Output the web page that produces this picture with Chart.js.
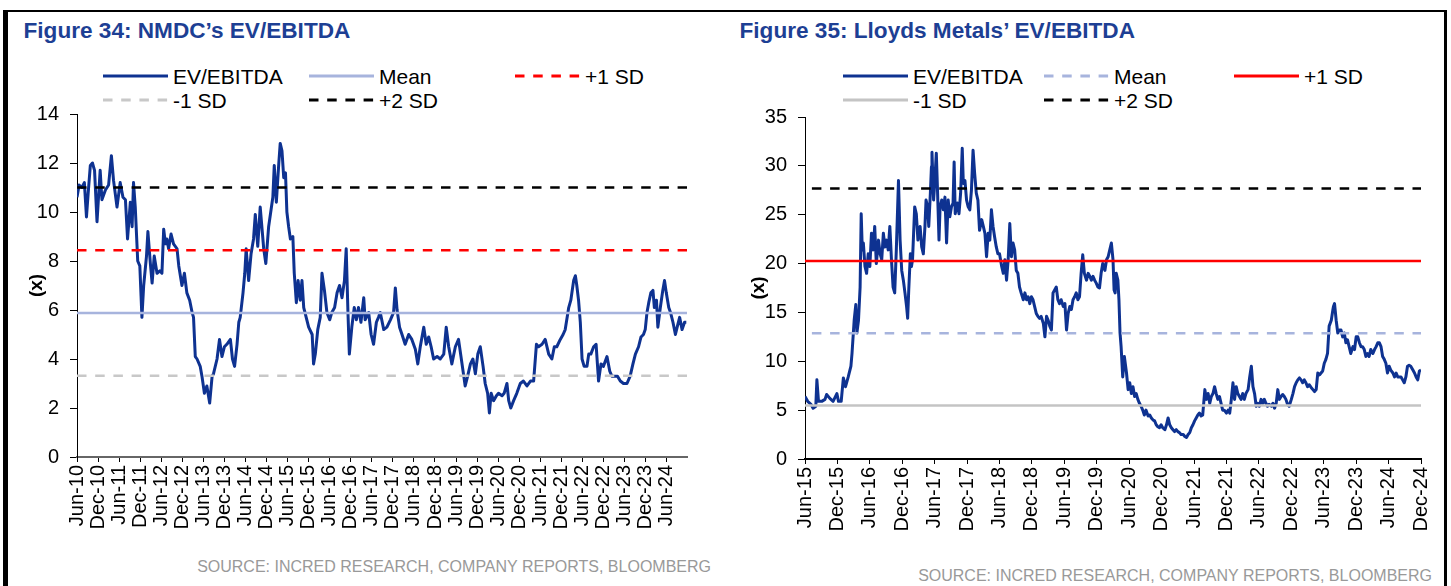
<!DOCTYPE html>
<html>
<head>
<meta charset="utf-8">
<script src="https://cdn.jsdelivr.net/npm/chart.js@4.4.1/dist/chart.umd.min.js"></script>
<style>
  body { margin: 0; width: 1451px; height: 586px; overflow: hidden; background: #fff; position: relative;
         font-family: "Liberation Sans", Arial, sans-serif; }
  .frame { position: absolute; left: 3px; top: 10px; width: 1444px; height: 600px; box-sizing: border-box;
           border-top: 2px solid #000; border-left: 5px solid #000; border-right: 3px solid #000; }
  .title { position: absolute; top: 19.5px; font-size: 22.6px; line-height: 22px; font-weight: bold; color: #1d3f94; white-space: nowrap; }
  .leg { position: absolute; height: 21px; display: flex; align-items: center; font-size: 21px; line-height: 21px; white-space: nowrap; color: #000; }
  .leg svg { margin-right: 5px; }
  .src { position: absolute; width: 600px; text-align: right; font-size: 16px; line-height: 16px; color: #999; white-space: nowrap; }
  canvas { position: absolute; }
</style>
</head>
<body>
<div class="frame"></div>
<div class="title" style="left:23.5px">Figure 34: NMDC’s EV/EBITDA</div>
<div class="title" style="left:739.5px">Figure 35: Lloyds Metals’ EV/EBITDA</div>
<div id="legNmdc"></div>
<div id="legLloyds"></div>
<canvas id="nmdc" width="725" height="459" style="left:0;top:91px"></canvas>
<canvas id="lloyds" width="726" height="456" style="left:725px;top:94px"></canvas>
<div class="src" style="left:111px;top:559px">SOURCE: INCRED RESEARCH, COMPANY REPORTS, BLOOMBERG</div>
<div class="src" style="left:832px;top:568px">SOURCE: INCRED RESEARCH, COMPANY REPORTS, BLOOMBERG</div>

<script>
// NMDC: months since Jun-10, EV/EBITDA (x)
const nmdcMonths = [0,0.6,1.4,2.1,2.7,3.2,3.8,4.4,5.0,5.7,6.3,6.6,7.1,8.1,9.0,9.8,10.4,11.4,12.3,13.1,
  13.8,14.4,15.2,15.7,16.1,16.6,17.3,17.9,18.5,19.0,19.8,20.2,20.9,21.4,22.0,22.8,23.6,24.2,24.7,25.2,
  25.6,26.1,26.8,27.5,28.5,29.0,29.9,30.6,31.3,32.1,32.8,33.2,33.7,34.2,35.1,35.6,36.3,37.0,37.8,38.5,
  38.9,39.9,40.6,41.3,42.0,42.7,43.7,44.3,44.9,45.6,46.1,46.5,47.3,47.8,48.2,48.9,49.6,50.3,50.8,51.5,
  52.2,53.2,53.8,54.6,55.3,55.8,56.2,56.8,57.5,57.9,58.4,58.9,59.4,59.8,60.3,60.8,61.5,61.9,62.5,63.0,
  63.6,64.1,64.6,65.3,66.0,67.0,67.4,67.9,68.6,69.3,69.8,70.5,71.2,72.0,72.6,73.4,74.1,74.8,75.5,76.2,
  76.7,77.2,77.6,78.3,79.0,79.6,80.2,80.9,81.7,82.1,83.1,83.8,84.5,85.3,85.9,
  86.4,87.4,88.3,89.3,90.2,90.7,91.2,91.9,92.6,93.5,94.5,95.4,96.4,97.1,97.8,98.8,99.5,100.2,100.9,101.6,
  102.6,103.5,104.5,105.2,105.9,106.8,107.8,108.7,109.4,110.2,110.6,111.3,112.1,112.8,113.5,114.2,114.9,115.7,116.3,117.0,
  117.5,118.0,118.7,119.5,120.1,121.1,121.7,122.5,123.0,123.6,124.4,125.3,126.3,127.2,128.2,129.2,130.1,130.9,131.5,132.5,
  133.4,134.4,135.3,136.0,136.7,137.7,138.5,139.1,140.1,140.7,141.5,142.0,142.4,142.9,143.4,143.9,144.5,145.3,145.8,146.4,
  147.2,147.9,148.6,149.3,150.0,151.0,151.8,152.4,153.2,154.0,154.8,155.7,156.7,157.6,158.4,159.1,160.0,160.7,161.4,161.9,
  162.4,162.9,163.5,164.1,164.5,165.1,165.5,166.2,166.9,167.4,167.9,168.6,169.1,169.8,170.5,171.0,171.7,172.4,173.1,173.6];
const nmdcValues = [10.6,11.1,11.0,11.2,9.8,10.8,11.9,12.0,11.7,9.6,11.0,11.7,10.5,10.9,11.1,12.3,11.3,10.2,11.2,10.6,
  10.5,8.9,10.4,9.4,11.2,10.2,8.0,7.8,5.7,7.0,8.2,9.2,7.9,7.1,8.2,7.5,7.6,7.5,9.3,8.7,
  8.9,8.5,9.1,8.7,8.5,7.8,7.0,7.5,6.7,6.4,5.9,5.7,4.1,4.0,3.7,3.3,2.6,2.9,2.2,3.3,
  3.4,4.0,4.8,4.1,4.5,4.6,4.8,4.0,3.7,4.6,5.5,5.7,6.7,7.5,8.5,7.2,8.3,8.9,9.9,8.6,
  10.2,8.5,7.9,9.4,10.1,10.6,11.9,10.4,12.0,12.8,12.5,11.4,11.6,10.0,9.4,8.9,9.0,7.5,6.3,7.2,
  6.4,7.2,6.1,5.7,5.3,5.0,3.8,4.2,5.2,5.7,7.5,6.8,5.9,5.6,5.9,6.1,6.7,7.0,6.5,7.2,
  8.5,5.9,4.2,5.3,6.1,5.6,6.1,5.5,6.5,5.6,5.9,5.0,4.6,5.5,5.7,
  5.9,5.2,5.3,5.6,5.9,6.9,6.0,5.3,5.0,4.6,5.0,4.8,4.4,3.8,4.5,5.3,4.6,4.9,4.5,4.0,
  4.1,4.0,4.2,5.3,4.5,3.8,4.5,4.8,4.1,3.3,2.9,3.3,3.8,4.0,3.4,4.2,4.5,3.7,3.0,2.6,
  1.8,2.6,2.3,2.5,2.6,2.5,2.6,3.0,2.3,2.0,2.3,2.6,3.0,3.1,2.9,3.1,3.1,4.6,4.5,4.6,
  4.8,4.2,4.0,4.5,4.5,4.8,5.0,5.2,6.1,6.4,7.2,7.4,7.0,6.4,5.5,4.0,3.7,3.7,4.2,4.2,
  4.5,4.6,3.1,3.8,3.7,4.1,3.5,3.3,3.3,3.3,3.1,3.0,3.0,3.3,3.8,4.2,4.5,4.9,5.0,5.2,
  5.9,6.3,6.7,6.8,6.1,6.4,5.3,6.1,6.8,7.2,6.7,6.1,5.9,5.5,5.0,5.3,5.7,5.2,5.5,5.5];
const nmdcTickLabels = ['Jun-10','Dec-10','Jun-11','Dec-11','Jun-12','Dec-12','Jun-13','Dec-13','Jun-14','Dec-14',
  'Jun-15','Dec-15','Jun-16','Dec-16','Jun-17','Dec-17','Jun-18','Dec-18','Jun-19','Dec-19',
  'Jun-20','Dec-20','Jun-21','Dec-21','Jun-22','Dec-22','Jun-23','Dec-23','Jun-24'];
const nmdcBands = [5.88, 8.44, 3.32, 11.0];   // Mean, +1 SD, -1 SD, +2 SD

// Lloyds Metals: months since Jun-15, EV/EBITDA (x)
const lloydsMonths = [0.0,0.5,1.1,1.5,2.0,2.2,2.5,3.1,3.7,4.0,4.6,5.2,5.9,6.2,6.7,7.1,7.5,8.0,8.5,8.7,
  9.1,9.4,9.6,9.9,10.2,10.4,10.6,10.8,11.1,11.4,11.7,12.0,12.3,12.6,12.9,13.2,13.6,13.9,14.2,14.5,
  14.8,15.1,15.4,15.7,16.0,16.3,16.6,16.9,17.3,17.6,17.9,18.2,18.5,18.8,19.0,19.2,19.5,19.7,19.9,20.1,
  20.3,20.6,20.9,21.3,21.6,21.9,22.2,22.4,22.7,22.9,23.2,23.4,23.5,23.8,24.0,24.3,24.5,24.8,25.0,25.3,
  25.6,25.9,26.2,26.5,26.8,27.1,27.4,27.6,27.8,28.2,28.5,28.8,29.1,29.3,29.6,29.9,30.2,30.5,30.8,31.1,
  31.4,31.7,32.0,32.3,32.7,33.0,33.3,33.6,33.9,34.2,34.5,34.8,35.1,35.4,35.7,36.0,36.4,36.7,37.0,37.3,
  37.6,37.9,38.2,38.5,38.8,39.1,39.4,39.7,40.0,40.4,40.7,41.0,41.3,41.6,41.9,42.2,42.5,42.8,43.1,43.4,
  43.7,44.1,44.4,44.7,45.0,45.3,45.6,45.9,46.2,46.5,46.8,47.1,47.4,47.8,48.1,48.4,48.7,49.0,49.3,49.6,
  49.9,50.2,50.5,50.8,
  51.1,51.4,51.7,52.1,52.4,52.7,53.0,53.3,53.6,53.9,54.2,54.5,54.8,55.1,55.5,55.8,56.1,56.4,56.7,57.0,
  57.2,57.4,57.6,57.9,58.1,58.3,58.5,58.8,59.1,59.5,59.8,60.1,60.4,60.7,61.0,61.3,61.6,61.9,62.2,62.5,
  62.8,63.1,63.5,63.8,64.1,64.4,64.7,65.0,65.3,65.6,65.9,66.2,66.6,66.9,67.2,67.5,67.8,68.1,68.4,68.7,
  69.0,69.3,69.6,70.0,70.3,70.6,70.9,71.2,71.5,71.8,72.1,72.4,72.7,73.0,73.3,73.6,74.0,74.3,74.6,74.9,
  75.2,75.5,75.8,76.1,76.4,76.7,77.0,77.3,77.6,78.0,78.3,78.6,78.9,79.2,79.5,79.8,80.1,80.4,80.7,81.0,
  81.3,81.6,82.0,82.3,82.6,82.9,83.2,83.5,83.8,84.1,84.4,84.7,85.0,85.3,85.6,85.9,86.3,86.6,86.9,87.2,
  87.5,87.8,88.1,88.4,88.7,89.0,89.3,89.6,90.0,90.3,90.6,90.9,91.2,91.5,91.8,92.1,92.4,92.7,93.0,93.3,
  93.7,94.0,94.3,94.6,94.9,95.2,95.5,95.8,96.1,96.4,96.7,97.0,97.4,97.7,97.8,98.0,98.3,98.6,98.9,99.2,
  99.5,99.8,100.1,100.4,100.7,101.0,101.4,101.7,102.0,102.3,102.6,102.9,103.2,103.5,103.8,104.1,104.4,104.7,105.1,105.4,
  105.7,106.0,106.3,106.6,106.9,107.2,107.5,107.8,108.1,108.4,108.8,109.1,109.4,109.7,110.0,110.3,110.6,110.9,111.2,111.5,
  111.8,112.1,112.5,112.8,113.1,113.4,113.7,114.0];
const lloydsValues = [6.4,5.9,5.6,5.2,5.4,8.1,5.9,5.9,6.1,6.6,6.2,5.9,6.7,5.9,5.9,8.3,7.4,8.4,9.5,10.8,
  14.2,15.8,12.9,14.2,17.6,25.1,21.4,22.1,19.7,19.0,21.0,19.7,23.1,21.4,23.8,20.0,22.4,21.0,20.4,23.1,
  21.7,22.4,21.4,23.8,20.4,17.6,17.0,21.4,28.5,22.4,19.3,18.3,17.0,15.6,14.4,17.3,21.0,19.7,20.4,23.1,
  25.8,25.1,22.4,23.8,21.7,21.0,23.8,26.5,25.8,23.8,27.2,29.9,31.4,26.5,28.2,31.3,27.9,22.4,25.8,26.5,
  25.5,26.8,22.1,26.5,24.8,25.8,26.2,30.4,25.1,26.2,25.1,27.2,31.8,28.2,28.5,26.5,25.8,25.5,27.5,31.6,
  29.2,27.2,26.5,23.4,24.5,23.8,23.1,20.7,23.1,22.4,25.5,23.8,22.7,21.7,21.0,21.0,19.7,19.0,20.4,18.3,
  20.4,24.1,20.7,22.1,21.4,19.3,19.0,17.6,17.0,16.3,17.0,16.3,16.6,15.9,16.6,16.3,15.6,14.9,14.6,14.4,
  14.6,13.9,12.5,14.6,14.2,13.6,13.2,17.0,17.3,17.6,16.3,15.9,16.3,15.6,15.9,13.2,14.9,15.6,15.3,16.3,
  16.6,17.0,16.3,16.6,
  19.0,20.9,19.0,18.3,19.0,18.7,18.3,18.7,18.3,18.0,17.6,17.5,19.0,20.0,19.3,20.4,20.7,21.4,22.1,20.4,
  17.3,17.0,19.0,18.3,16.3,12.9,11.5,8.4,10.5,8.8,7.1,7.8,6.7,7.4,6.4,6.7,6.1,5.7,5.4,5.0,
  4.5,5.0,4.4,4.5,4.2,4.0,3.9,3.5,3.3,3.2,3.5,3.2,3.0,3.5,4.2,3.5,3.2,3.0,2.8,3.0,
  2.8,2.7,2.5,2.5,2.3,2.2,2.5,2.7,3.2,3.5,3.9,4.2,4.5,4.7,4.4,4.5,7.1,6.1,6.7,5.7,
  6.4,6.7,7.4,6.7,6.1,6.4,5.7,5.0,5.0,4.7,5.0,4.7,6.1,7.8,6.1,7.4,6.7,6.4,6.1,6.7,
  6.1,6.7,7.1,8.4,9.5,7.4,6.7,5.4,5.7,5.4,6.1,5.7,6.1,5.7,5.4,5.6,5.4,5.7,5.2,5.7,
  7.1,6.1,6.4,6.6,6.4,6.1,5.6,5.4,6.1,6.7,7.4,7.8,8.1,8.3,8.1,7.8,8.1,7.8,7.4,7.6,
  7.3,7.1,6.9,7.1,8.8,8.6,8.8,9.0,9.8,10.2,10.8,13.6,14.2,15.3,15.6,15.9,14.2,12.9,13.2,13.2,
  12.5,12.9,11.9,12.2,11.5,10.8,11.5,11.2,12.5,12.5,11.9,11.5,11.5,11.2,10.5,10.8,10.5,11.2,10.8,11.2,
  11.5,11.9,11.9,11.5,10.5,10.2,9.8,8.8,9.5,9.1,8.8,8.4,8.8,8.4,8.4,8.4,8.1,7.8,8.4,9.5,
  9.6,9.5,9.1,8.8,8.4,8.1,9.0,9.1];
const lloydsTickLabels = ['Jun-15','Dec-15','Jun-16','Dec-16','Jun-17','Dec-17','Jun-18','Dec-18','Jun-19','Dec-19',
  'Jun-20','Dec-20','Jun-21','Dec-21','Jun-22','Dec-22','Jun-23','Dec-23','Jun-24','Dec-24'];
const lloydsBands = [12.87, 20.27, 5.47, 27.67];   // Mean, +1 SD, -1 SD, +2 SD

const bandNames = ['Mean', '+1 SD', '-1 SD', '+2 SD'];
const seriesName = 'EV/EBITDA';

const blue = '#0e3291';
const dash = [9.5, 8.7];
const nmdcStyles = [
  { color: '#a7b4dd', dash: [] },
  { color: '#ff0000', dash: dash },
  { color: '#c8c8c8', dash: dash },
  { color: '#000000', dash: dash }
];
const lloydsStyles = [
  { color: '#a7b4dd', dash: dash },
  { color: '#ff0000', dash: [] },
  { color: '#c4c4c4', dash: [] },
  { color: '#000000', dash: dash }
];

function buildLegend(id, styles, cols, rows) {
  const box = document.getElementById(id);
  const items = [{ name: seriesName, color: blue, dash: [] }]
    .concat(bandNames.map((n, i) => ({ name: n, color: styles[i].color, dash: styles[i].dash })));
  items.forEach((it, i) => {
    const el = document.createElement('div');
    el.className = 'leg';
    el.style.left = cols[i % 3] + 'px';
    el.style.top = rows[Math.floor(i / 3)] + 'px';
    el.innerHTML = '<svg width="65" height="4"><line x1="0" y1="2" x2="65" y2="2" stroke="' + it.color +
      '" stroke-width="3" stroke-dasharray="' + (it.dash.length ? it.dash.join(' ') : 'none') + '"/></svg>' +
      '<span>' + it.name + '</span>';
    box.appendChild(el);
  });
}
buildLegend('legNmdc', nmdcStyles, [103, 309, 515], [65.5, 89.5]);
buildLegend('legLloyds', lloydsStyles, [843, 1044, 1234], [65.5, 89.5]);

function makeChart(id, months, values, bands, styles, tickLabels, yMax, yStep, xMax, g) {
  const datasets = [{
    data: months.map((m, i) => ({ x: m, y: values[i] })),
    borderColor: blue,
    borderWidth: 3,
    borderJoinStyle: 'round',
    pointRadius: 0,
    order: 1
  }];
  bands.forEach((b, i) => {
    datasets.push({
      data: [{ x: 0, y: b }, { x: xMax, y: b }],
      borderColor: styles[i].color,
      borderWidth: 2.5,
      borderDash: styles[i].dash,
      borderDashOffset: g.dashOffset,
      pointRadius: 0,
      order: 0
    });
  });

  return new Chart(document.getElementById(id), {
    type: 'line',
    data: { datasets: datasets },
    options: {
      responsive: false,
      animation: false,
      devicePixelRatio: 1,
      layout: { padding: g.padding },
      plugins: { legend: { display: false }, tooltip: { enabled: false } },
      scales: {
        x: {
          type: 'linear',
          min: 0,
          max: xMax,
          afterBuildTicks: s => { s.ticks = tickLabels.map((_, i) => ({ value: i * 6 })); },
          afterFit: s => { s.height = g.xHeight; },
          ticks: {
            autoSkip: false,
            maxRotation: 90,
            minRotation: 90,
            padding: 3,
            color: '#000',
            font: { family: '"Liberation Sans", Arial, sans-serif', size: 20 },
            callback: (v, i) => tickLabels[i]
          },
          grid: { drawOnChartArea: false, tickLength: 5, color: '#000' },
          border: { color: g.xAxisColor, width: 2 }
        },
        y: {
          min: 0,
          max: yMax,
          afterFit: s => { s.width = g.yWidth; },
          ticks: {
            stepSize: yStep,
            padding: 11,
            color: '#000',
            font: { family: '"Liberation Sans", Arial, sans-serif', size: 20 }
          },
          grid: { drawOnChartArea: false, tickLength: 7, color: '#000' },
          border: { color: '#000', width: 1 },
          title: {
            display: true,
            text: '(x)',
            color: '#000',
            padding: { top: g.titlePad, bottom: 0 },
            font: { family: '"Liberation Sans", Arial, sans-serif', size: 19, weight: 'bold' }
          }
        }
      }
    }
  });
}

// the y labels reserve 23px above the plot, so the canvases start 23px above the top gridline
makeChart('nmdc', nmdcMonths, nmdcValues, nmdcBands, nmdcStyles, nmdcTickLabels, 14, 2, 173.8, {
  padding: { left: 0, top: 0, right: 38, bottom: 0 },
  yWidth: 77, xHeight: 93, titlePad: 25.5, xAxisColor: '#666', dashOffset: 0
});
makeChart('lloyds', lloydsMonths, lloydsValues, lloydsBands, lloydsStyles, lloydsTickLabels, 35, 5, 114, {
  padding: { left: 0, top: 0, right: 30, bottom: 0 },
  yWidth: 80, xHeight: 91, titlePad: 22, xAxisColor: '#000', dashOffset: 11.3
});
</script>
</body>
</html>
